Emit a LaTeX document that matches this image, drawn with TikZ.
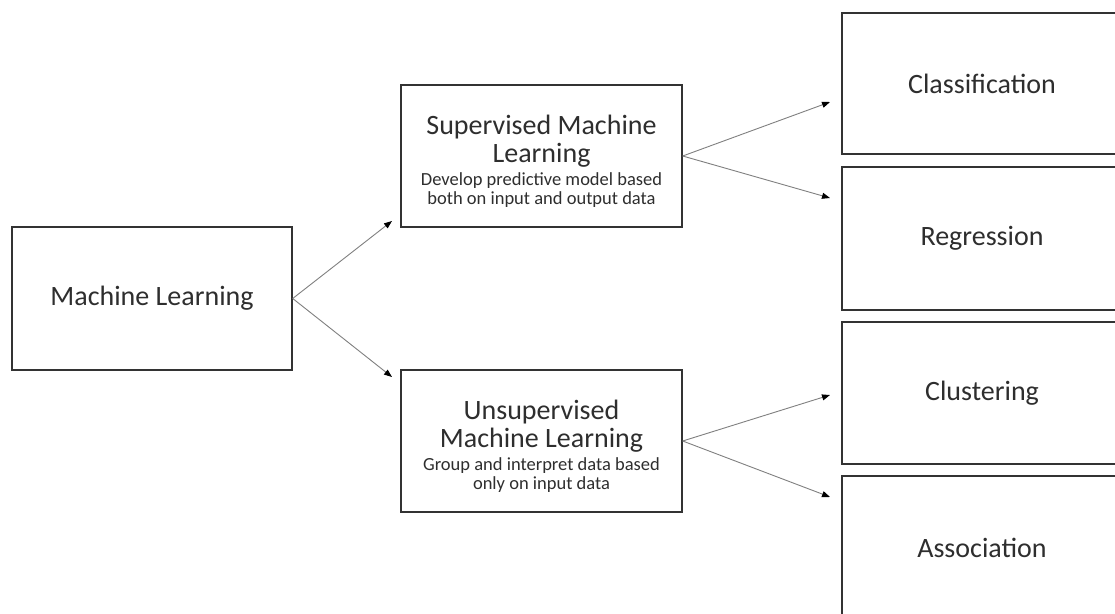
\documentclass[tikz,border=0pt]{standalone}
\usepackage{fontspec}
\setmainfont{Carlito}
\usetikzlibrary{arrows.meta}
\definecolor{txt}{HTML}{2E2E2E}
\definecolor{edge}{HTML}{333333}
\definecolor{conn}{HTML}{808080}
\tikzset{
  box/.style={draw=edge, line width=1.4pt, fill=white, inner sep=0pt, align=center,
    text=txt, font=\fontsize{28}{28}\selectfont},
  conn/.style={draw=conn, line width=0.9pt, -{Triangle[length=8pt,width=6pt,fill=black,color=black]}},
}
\newcommand{\sub}[1]{{\fontsize{18.5}{18}\selectfont #1}}
\newcommand{\topstrut}{\rule{0pt}{30pt}}
\begin{document}
\begin{tikzpicture}[x=1pt,y=-1pt]
\useasboundingbox (0,0) rectangle (1115,613);
\clip (0,0) rectangle (1115,613);
\fill[white] (0,0) rectangle (1115,613);
\node[box, minimum width=280pt, minimum height=143pt] (ml) at (152,298.5) {Machine Learning};
\node[box, minimum width=281pt, minimum height=142pt] (sup) at (541.5,156)
  {\topstrut Supervised Machine\\Learning\\[-5pt]\sub{Develop predictive model based}\\[-9pt]\sub{both on input and output data}};
\node[box, minimum width=281pt, minimum height=142pt] (uns) at (541.5,441)
  {\topstrut Unsupervised\\Machine Learning\\[-5pt]\sub{Group and interpret data based}\\[-9pt]\sub{only on input data}};
\node[box, minimum width=280pt, minimum height=141pt] (cls) at (982,83.5) {Classification};
\node[box, minimum width=280pt, minimum height=143pt] (reg) at (982,238.5) {Regression};
\node[box, minimum width=280pt, minimum height=142pt] (clu) at (982,393) {Clustering};
\node[box, minimum width=280pt, minimum height=144pt] (ass) at (982,548) {Association};
\coordinate (a1) at (392,221);
\coordinate (a2) at (392,377);
\coordinate (s1) at (830,102);
\coordinate (s2) at (830,198);
\coordinate (u1) at (830,395);
\coordinate (u2) at (830,497);
\draw[conn] (ml.east) -- (a1);
\draw[conn] (ml.east) -- (a2);
\draw[conn] (sup.east) -- (s1);
\draw[conn] (sup.east) -- (s2);
\draw[conn] (uns.east) -- (u1);
\draw[conn] (uns.east) -- (u2);
\end{tikzpicture}
\end{document}
